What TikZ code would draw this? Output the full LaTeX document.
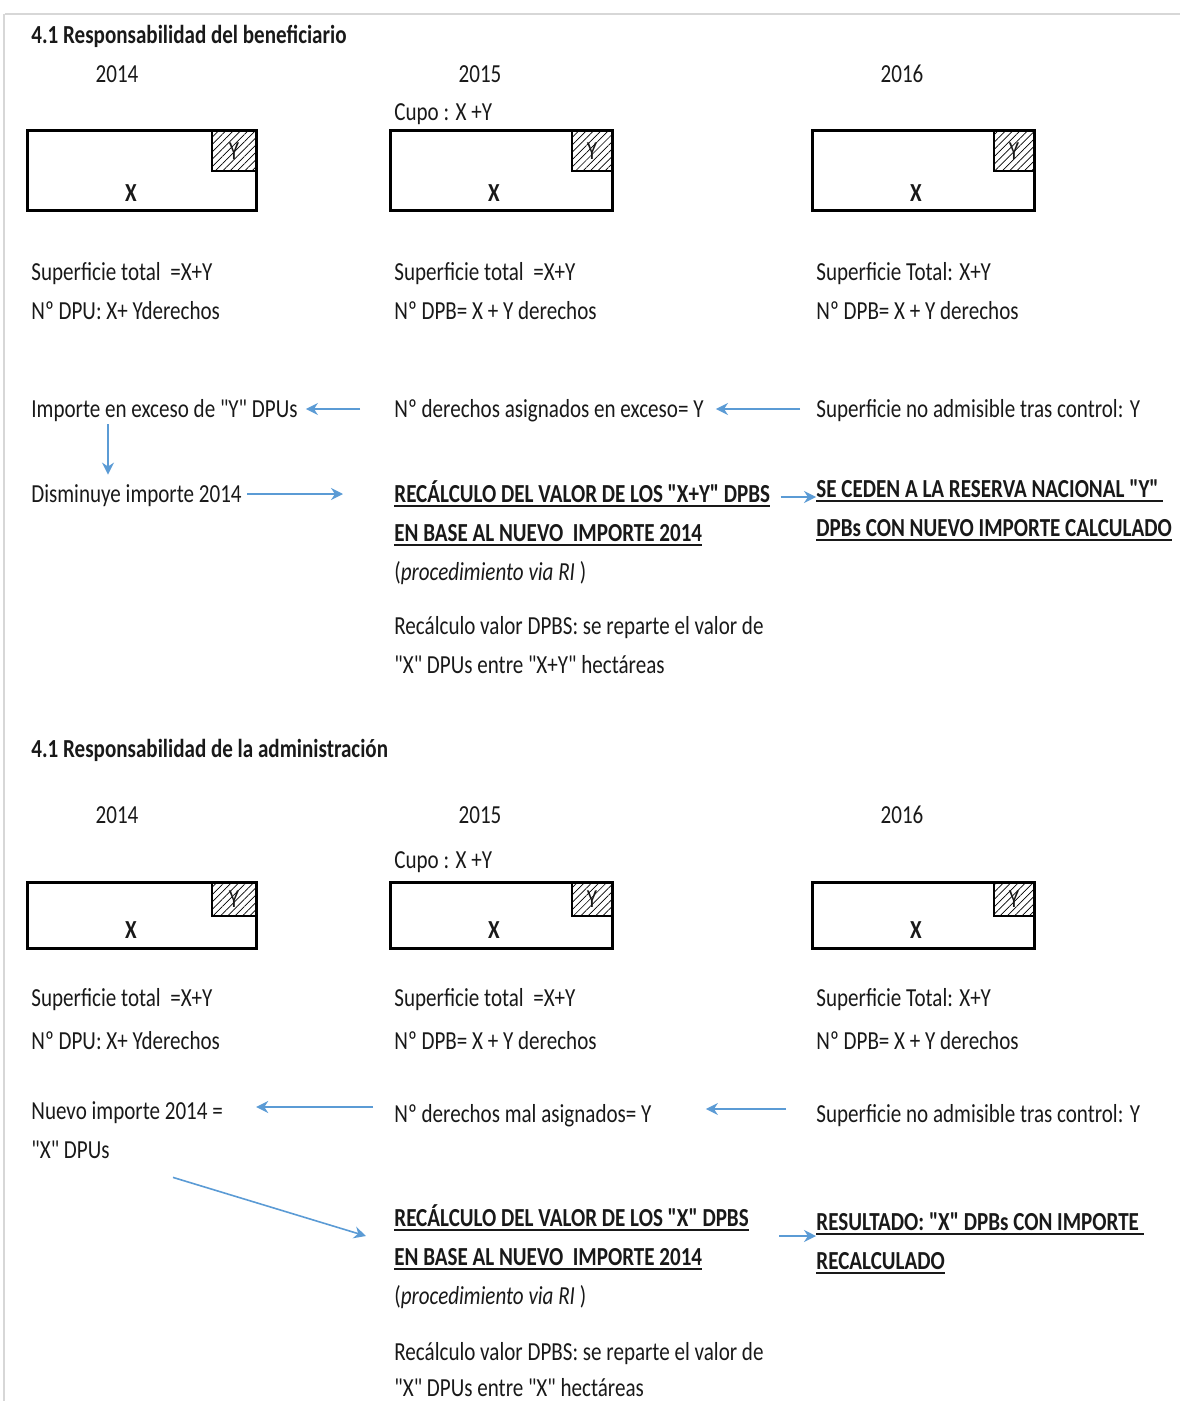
\documentclass[tikz,border=0pt]{standalone}
\usepackage{fontspec}
\setmainfont{Carlito}[FakeStretch=0.81,Ligatures=TeXOff]
\usetikzlibrary{arrows.meta,patterns.meta}
\definecolor{flecha}{RGB}{91,155,213}
\definecolor{tinta}{RGB}{25,25,25}
\definecolor{marco}{RGB}{215,215,215}
\newcommand{\subr}[1]{\setbox0\hbox{#1}\rlap{\rule[-2.6pt]{\wd0}{0.9pt}}\box0}
\tikzset{
  txt/.style={anchor=base west, inner sep=0pt, text height=10pt, text depth=2pt, font=\fontsize{13}{15}\selectfont, text=tinta},
  tit/.style={txt, font=\fontsize{13}{15}\selectfont\bfseries},
  anio/.style={anchor=base, inner sep=0pt, font=\fontsize{13}{15}\selectfont, text=tinta},
  parc/.style={draw=black, line width=1.5pt},
  rayas/.style={draw=black, line width=0.7pt, pattern={Lines[angle=45,distance=2.6pt,line width=0.35pt]}},
  xtag/.style={inner sep=0pt, font=\fontsize{13}{15}\selectfont\bfseries, text=tinta},
  ytag/.style={inner sep=0pt, font=\fontsize{13}{15}\selectfont, text=tinta},
  barrow/.style={draw=flecha, line width=0.8pt, -{Stealth[length=6pt,width=6pt]}}
}

\begin{document}
\begin{tikzpicture}[x=0.5pt, y=-0.5pt]
    \useasboundingbox (0,0) rectangle (1180,1401);
    % sheet edges
    \draw[marco, line width=1pt] (5,14) -- (1180,14) (4,14) -- (4,1401);
    % plots: box, hatched Y corner, labels
    \foreach \id/\xa/\xb/\ya/\yb/\hw/\hh in {a1/27/256/131/211/44/40, a2/390/612/131/211/40/40, a3/812/1034/131/211/40/40,
                                           b1/27/256/882/948/44/34, b2/390/612/882/948/40/34, b3/812/1034/882/948/40/34} {
      \draw[rayas] (\xb-\hw,\ya) rectangle (\xb,\ya+\hh);
      \draw[parc] (\xa,\ya) rectangle (\xb,\yb);
      \node[ytag] (y\id) at (\xb-\hw/2,\ya+\hh/2) {Y};
      \node[xtag] (x\id) at (\xa+104,\yb-18) {X};
    }
    % 4.1 beneficiario
    \node[tit] (tit1) at (31,44) {4.1 Responsabilidad del beneficiario};
    \node[anio] (an1a) at (117,83) {2014};
    \node[anio] (an1b) at (480,83) {2015};
    \node[anio] (an1c) at (902,83) {2016};
    \node[txt] (cupo1) at (394,121) {Cupo : X +Y};
    \node[txt] (sup1a) at (31,281) {Superficie total\ \ =X+Y};
    \node[txt] (sup1b) at (394,281) {Superficie total\ \ =X+Y};
    \node[txt] (sup1c) at (816,281) {Superficie Total: X+Y};
    \node[txt] (num1a) at (31,320) {Nº DPU: X+ Yderechos};
    \node[txt] (num1b) at (394,320) {Nº DPB= X + Y derechos};
    \node[txt] (num1c) at (816,320) {Nº DPB= X + Y derechos};
    \node[txt] (exc1) at (31,417) {Importe en exceso de "Y" DPUs};
    \node[txt] (asig1) at (394,417) {Nº derechos asignados en exceso= Y};
    \node[txt] (noad1) at (816,417) {Superficie no admisible tras control: Y};
    \node[txt] (dis1) at (31,502) {Disminuye importe 2014};
    \node[tit] (rec1a) at (394,502) {\subr{RECÁLCULO DEL VALOR DE LOS "X+Y" DPBS}};
    \node[tit] (rec1b) at (394,541) {\subr{EN BASE AL NUEVO\ \ IMPORTE 2014}};
    \node[txt] (rec1c) at (394,580) {(\textit{procedimiento via RI} )};
    \node[tit] (ced1a) at (816,497) {\subr{SE CEDEN A LA RESERVA NACIONAL "Y" }};
    \node[tit] (ced1b) at (816,536) {\subr{DPBs CON NUEVO IMPORTE CALCULADO}};
    \node[txt] (val1a) at (394,634) {Recálculo valor DPBS: se reparte el valor de};
    \node[txt] (val1b) at (394,673) {"X" DPUs entre "X+Y" hectáreas};
    \draw[barrow] ([xshift=-17pt]asig1.west) -- ([xshift=4pt]exc1.east);
    \draw[barrow] ([xshift=-8pt]noad1.west) -- ([xshift=6pt]asig1.east);
    \draw[barrow] ([shift={(38.5pt,-1.5pt)}]exc1.south west) -- ([shift={(38.5pt,3.5pt)}]dis1.north west);
    \draw[barrow] ([xshift=2.5pt]dis1.east) -- ([xshift=-25.5pt]rec1a.west);
    \draw[barrow] ([shift={(5pt,-1.5pt)}]rec1a.east) -- ([yshift=-4pt]ced1a.west);
    % 4.1 administracion
    \node[tit] (tit2) at (31,757) {4.1 Responsabilidad de la administración};
    \node[anio] (an2a) at (117,823) {2014};
    \node[anio] (an2b) at (480,823) {2015};
    \node[anio] (an2c) at (902,823) {2016};
    \node[txt] (cupo2) at (394,868) {Cupo : X +Y};
    \node[txt] (sup2a) at (31,1006) {Superficie total\ \ =X+Y};
    \node[txt] (sup2b) at (394,1006) {Superficie total\ \ =X+Y};
    \node[txt] (sup2c) at (816,1006) {Superficie Total: X+Y};
    \node[txt] (num2a) at (31,1049) {Nº DPU: X+ Yderechos};
    \node[txt] (num2b) at (394,1049) {Nº DPB= X + Y derechos};
    \node[txt] (num2c) at (816,1049) {Nº DPB= X + Y derechos};
    \node[txt] (nue2a) at (31,1119) {Nuevo importe 2014 =};
    \node[txt] (nue2b) at (31,1158) {"X" DPUs};
    \node[txt] (mal2) at (394,1122) {Nº derechos mal asignados= Y};
    \node[txt] (noad2) at (816,1122) {Superficie no admisible tras control: Y};
    \node[tit] (rec2a) at (394,1226) {\subr{RECÁLCULO DEL VALOR DE LOS "X" DPBS}};
    \node[tit] (rec2b) at (394,1265) {\subr{EN BASE AL NUEVO\ \ IMPORTE 2014}};
    \node[txt] (rec2c) at (394,1304) {(\textit{procedimiento via RI} )};
    \node[tit] (res2a) at (816,1230) {\subr{RESULTADO: "X" DPBs CON IMPORTE }};
    \node[tit] (res2b) at (816,1269) {\subr{RECALCULADO}};
    \node[txt] (val2a) at (394,1360) {Recálculo valor DPBS: se reparte el valor de};
    \node[txt] (val2b) at (394,1396) {"X" DPUs entre "X" hectáreas};
    \draw[barrow] ([shift={(-10.5pt,3.5pt)}]mal2.west) -- ([shift={(16.5pt,2pt)}]nue2a.east);
    \draw[barrow] ([shift={(-15pt,2.5pt)}]noad2.west) -- ([shift={(27pt,2.5pt)}]mal2.east);
    \draw[barrow] ([shift={(71pt,-7.5pt)}]nue2b.south west) -- ([shift={(-14pt,-9pt)}]rec2a.west);
    \draw[barrow] ([shift={(15pt,-9pt)}]rec2a.east) -- ([yshift=-7pt]res2a.west);
  \end{tikzpicture}
\end{document}
